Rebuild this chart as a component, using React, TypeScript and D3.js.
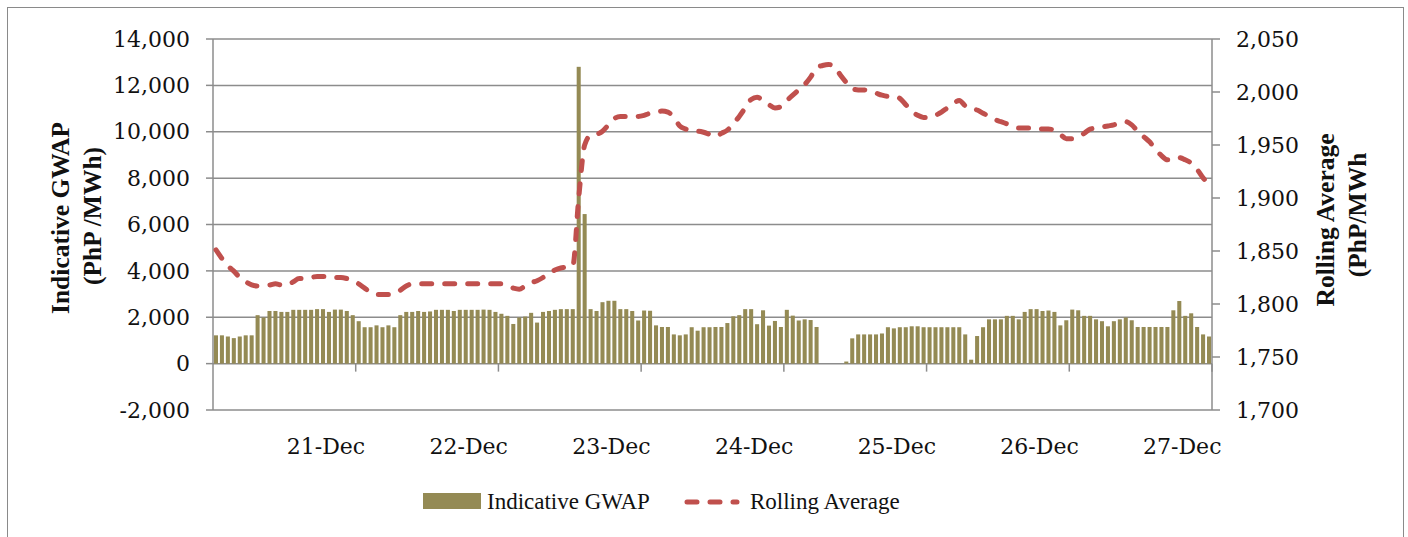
import { scaleBand, scaleLinear, line, curveMonotoneX, range, format } from 'd3'

// hourly indicative GWAP, 20-Dec to 27-Dec (null = no value)
const gwap = [
  1220, 1220, 1170, 1100, 1170, 1220, 1220, 2090, 1990, 2270, 2270, 2230, 2230, 2320, 2320, 2320, 2320, 2350, 2350, 2230, 2330, 2330, 2270, 2090,
  1830, 1570, 1570, 1650, 1570, 1650, 1570, 2090, 2230, 2230, 2270, 2230, 2250, 2320, 2320, 2320, 2270, 2320, 2320, 2320, 2320, 2330, 2320, 2230,
  2150, 2060, 1710, 1990, 2030, 2190, 1770, 2230, 2270, 2320, 2350, 2350, 2350, 12800, 6450, 2350, 2270, 2650, 2710, 2710, 2350, 2350, 2270, 1860,
  2290, 2280, 1650, 1580, 1580, 1260, 1220, 1260, 1570, 1420, 1570, 1570, 1580, 1580, 1750, 2040, 2090, 2350, 2350, 1700, 2300, 1640, 1840, 1580,
  2320, 2070, 1860, 1910, 1880, 1580, null, null, null, null, 90, 1090, 1260, 1260, 1260, 1260, 1300, 1570, 1520, 1570, 1570, 1610, 1610, 1570,
  1570, 1570, 1570, 1570, 1570, 1570, 1260, 170, 1190, 1570, 1910, 1910, 1910, 2060, 2060, 1910, 2230, 2350, 2350, 2270, 2290, 2230, 1650, 1870,
  2330, 2300, 2060, 2060, 1910, 1830, 1610, 1830, 1910, 1990, 1870, 1580, 1580, 1580, 1580, 1580, 1580, 2300, 2700, 2060, 2170, 1580, 1260, 1170,
]

const rolling = [
  1851, 1843, 1836, 1831, 1825, 1821, 1818, 1817, 1818, 1818, 1819, 1818, 1818, 1821, 1824, 1824, 1825, 1826, 1826, 1826, 1825, 1825, 1824, 1822,
  1819, 1815, 1811, 1809, 1809, 1809, 1810, 1813, 1817, 1819, 1819, 1819, 1819, 1819, 1819, 1819, 1819, 1819, 1819, 1819, 1819, 1819, 1819, 1819,
  1819, 1817, 1815, 1814, 1817, 1820, 1822, 1825, 1829, 1832, 1834, 1835, 1836, 1900, 1950, 1959, 1960, 1963, 1969, 1975, 1977, 1977, 1977, 1977,
  1978, 1980, 1981, 1982, 1981, 1976, 1968, 1965, 1963, 1963, 1962, 1960, 1958, 1961, 1964, 1970, 1977, 1985, 1993, 1995, 1992, 1988, 1985, 1986,
  1992, 1997, 2002, 2007, 2014, 2023, 2025, 2026, 2024, 2016, 2009, 2003, 2002, 2002, 2001, 1999, 1997, 1996, 1996, 1994, 1988, 1982, 1978, 1976,
  1976, 1978, 1981, 1985, 1989, 1992, 1987, 1984, 1983, 1980, 1977, 1974, 1972, 1970, 1968, 1966, 1966, 1966, 1966, 1965, 1965, 1964, 1960, 1956,
  1956, 1958, 1961, 1965, 1966, 1967, 1968, 1969, 1971, 1972, 1969, 1963, 1958, 1953, 1946, 1940, 1936, 1936, 1938, 1936, 1933, 1927, 1919, 1913,
]

const days = ['21-Dec', '22-Dec', '23-Dec', '24-Dec', '25-Dec', '26-Dec', '27-Dec']
const leftTicks = [-2000, 0, 2000, 4000, 6000, 8000, 10000, 12000, 14000]
const rightTicks = [1700, 1750, 1800, 1850, 1900, 1950, 2000, 2050]

const barColor = '#948A54'
const lineColor = '#C0504D'
const gridColor = '#8c8c8c'
const numFont = '"DejaVu Serif", serif'
const textFont = '"Liberation Serif", serif'

export default function App() {
  const width = 1408
  const height = 537
  const left = 213
  const right = 1212
  const top = 39
  const bottom = 410

  const hours = range(gwap.length)

  const x = scaleBand<number>()
    .domain(hours)
    .range([left, right])
    .paddingInner(0.32)
    .paddingOuter(0.16)

  const yL = scaleLinear().domain([-2000, 14000]).range([bottom, top])
  const yR = scaleLinear().domain([1700, 2050]).range([bottom, top])

  // plain hyphen for negatives, like the original
  const fmt = (v: number) => format(',')(v).replace('\u2212', '-')
  const half = (x.step() - x.bandwidth()) / 2
  const boundary = (i: number) => (i < hours.length ? x(i)! - half : right)

  const rollLine = line<number>()
    .x((_, i) => x(i)! + x.bandwidth() / 2)
    .y(d => yR(d))
    .curve(curveMonotoneX)

  return (
    <svg width={width} height={height} style={{ position: 'absolute', left: 0, top: 0 }}>
      <rect x={7.5} y={7.5} width={1396} height={560} fill='white' stroke='#8a8a8a' strokeWidth={1} />

      {/* horizontal gridlines */}
      {leftTicks.map(t => (
        <line key={t} x1={left} x2={right} y1={yL(t)} y2={yL(t)} stroke={gridColor} strokeWidth={1.5} />
      ))}

      {/* axes */}
      <line x1={left} x2={left} y1={top} y2={bottom} stroke={gridColor} strokeWidth={1.5} />
      <line x1={right} x2={right} y1={top} y2={bottom} stroke={gridColor} strokeWidth={1.5} />

      {leftTicks.map(t => (
        <g key={t}>
          <line x1={left - 7} x2={left} y1={yL(t)} y2={yL(t)} stroke={gridColor} strokeWidth={1.5} />
          <text x={190} y={yL(t)} dy='.35em' textAnchor='end' fontFamily={numFont} fontSize={22} fill='#111'>
            {fmt(t)}
          </text>
        </g>
      ))}

      {rightTicks.map(t => (
        <g key={t}>
          <line x1={right} x2={right + 8} y1={yR(t)} y2={yR(t)} stroke={gridColor} strokeWidth={1.5} />
          <text x={1236} y={yR(t)} dy='.35em' textAnchor='start' fontFamily={numFont} fontSize={22} fill='#111'>
            {fmt(t)}
          </text>
        </g>
      ))}

      {/* day ticks on the zero line */}
      {days.map((d, k) => (
        <line key={d} x1={boundary((k + 1) * 24)} x2={boundary((k + 1) * 24)} y1={yL(0)} y2={yL(0) + 8} stroke={gridColor} strokeWidth={1.5} />
      ))}
      {days.map((d, k) => (
        <text key={d} x={boundary(k * 24 + 19)} y={446} dy='.35em' textAnchor='middle' fontFamily={numFont} fontSize={22} fill='#111'>
          {d}
        </text>
      ))}

      {/* bars */}
      {gwap.map((v, i) =>
        v == null ? null : (
          <rect key={i} x={x(i)} y={yL(v)} width={x.bandwidth()} height={yL(0) - yL(v)} fill={barColor} />
        )
      )}

      {/* rolling average */}
      <path d={rollLine(rolling) || ''} fill='none' stroke={lineColor} strokeWidth={5} strokeDasharray='10 13' strokeLinecap='round' />

      {/* axis titles */}
      <g transform='translate(60,218) rotate(-90)'>
        <text textAnchor='middle' dy='.35em' fontFamily={textFont} fontWeight='bold' fontSize={25.5} fill='#111'>Indicative GWAP</text>
      </g>
      <g transform='translate(92,216) rotate(-90)'>
        <text textAnchor='middle' dy='.35em' fontFamily={textFont} fontWeight='bold' fontSize={25.5} fill='#111'>(PhP /MWh)</text>
      </g>
      <g transform='translate(1325,220) rotate(-90)'>
        <text textAnchor='middle' dy='.35em' fontFamily={textFont} fontWeight='bold' fontSize={25.5} fill='#111'>Rolling Average</text>
      </g>
      <g transform='translate(1357,215) rotate(-90)'>
        <text textAnchor='middle' dy='.35em' fontFamily={textFont} fontWeight='bold' fontSize={25.5} fill='#111'>(PhP/MWh</text>
      </g>

      {/* legend */}
      <rect x={423} y={493} width={58} height={16} fill={barColor} />
      <text x={487} y={501} dy='.35em' fontFamily={textFont} fontSize={23} fill='#111'>Indicative GWAP</text>
      <line x1={687} x2={737} y1={502} y2={502} stroke={lineColor} strokeWidth={5} strokeDasharray='10 13' strokeLinecap='round' />
      <text x={750} y={501} dy='.35em' fontFamily={textFont} fontSize={23} fill='#111'>Rolling Average</text>
    </svg>
  )
}
